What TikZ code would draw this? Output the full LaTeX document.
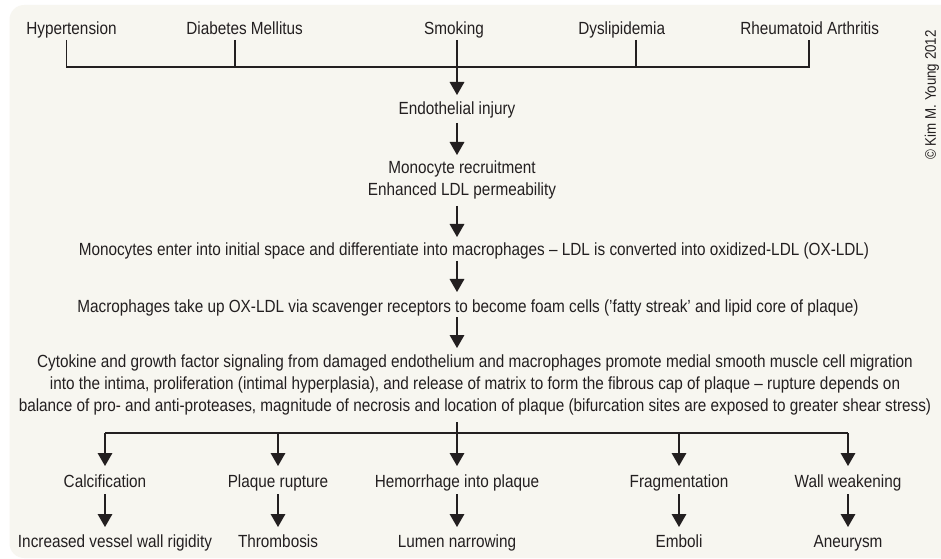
\documentclass[tikz,border=0pt]{standalone}
\usepackage{fontspec}
\setmainfont[FakeStretch=0.87]{Liberation Sans}
\usetikzlibrary{arrows.meta,calc}
\definecolor{ink}{HTML}{231F20}
\definecolor{bgc}{HTML}{F7F6F0}
\begin{document}
\begin{tikzpicture}[x=0.75pt,y=-0.75pt,
  lbl/.style={inner sep=0pt, text=ink, font=\fontsize{13.2pt}{16.7pt}\selectfont, anchor=base},
  ml/.style={lbl, align=center},
  ln/.style={draw=ink, line width=0.8pt},
  arr/.style={ln, -{Triangle[length=9.75pt,width=11pt]}}]
\useasboundingbox (0,0) rectangle (941,559);
\fill[white] (0,0) rectangle (941,559);
\begin{scope}
\clip (0,0) rectangle (941,559);
\fill[bgc, rounded corners=11pt] (9.5,5) rectangle (960,558);
\end{scope}
% top risk factors
\node[lbl] (hyp) at (71.5,35) {Hypertension};
\node[lbl] (dm)  at (244.6,35) {Diabetes Mellitus};
\node[lbl] (smk) at (454,35) {Smoking};
\node[lbl] (dys) at (621.7,35) {Dyslipidemia};
\node[lbl] (ra)  at (809.7,35) {Rheumatoid Arthritis};
\node[inner sep=0pt, text=ink, font=\fontsize{11.5pt}{12pt}\selectfont, rotate=90] (copy) at (932,95) {© Kim M. Young 2012};
% chain
\node[lbl] (endo) at (457,115) {Endothelial injury};
\node[ml] (mono) at (462,196) {Monocyte recruitment\\Enhanced LDL permeability};
\node[lbl] (mac1) at (474,256) {Monocytes enter into initial space and differentiate into macrophages -- LDL is converted into oxidized-LDL (OX-LDL)};
\node[lbl] (mac2) at (468,312) {Macrophages take up OX-LDL via scavenger receptors to become foam cells (’fatty streak’ and lipid core of plaque)};
\node[ml] (para) at (475,411.7) {Cytokine and growth factor signaling from damaged endothelium and macrophages promote medial smooth muscle cell migration\\into the intima, proliferation (intimal hyperplasia), and release of matrix to form the fibrous cap of plaque -- rupture depends on\\balance of pro- and anti-proteases, magnitude of necrosis and location of plaque (bifurcation sites are exposed to greater shear stress)};
% outcomes
\node[lbl] (calc) at (105,487) {Calcification};
\node[lbl] (plq)  at (278,487) {Plaque rupture};
\node[lbl] (hem)  at (457,487) {Hemorrhage into plaque};
\node[lbl] (frag) at (679,487) {Fragmentation};
\node[lbl] (wall) at (848,487) {Wall weakening};
\node[lbl] (incr) at (115,547) {Increased vessel wall rigidity};
\node[lbl] (thr)  at (278,547) {Thrombosis};
\node[lbl] (lum)  at (457,547) {Lumen narrowing};
\node[lbl] (emb)  at (679,547) {Emboli};
\node[lbl] (aneu) at (848,547) {Aneurysm};
% connector points
\coordinate (trunk) at (457,0);
\coordinate (jH) at (66.7,67);
\coordinate (jD) at (235,67);
\coordinate (jY) at (636,67);
\coordinate (jR) at (809,67);
\coordinate (br) at (457,433);
\coordinate (brL) at (105,433);
\coordinate (brR) at (848,433);
% top bracket
\draw[ln] (hyp.base -| jH) ++(0,5) |- (jR) -- ++(0,-27);
\draw[ln] (dm.base -| jD) ++(0,5) -- (jD);
\draw[ln] (dys.base -| jY) ++(0,5) -- (jY);
\draw[arr] (smk.base -| trunk) ++(0,5) -- ($(endo.base)+(0,-20)$);
% chain arrows
\draw[arr] ($(endo.base)+(0,8)$) -- ($(mono.base -| trunk)+(0,-41)$);
\draw[arr] ($(mono.base -| trunk)+(0,10)$) -- ($(mac1.base -| trunk)+(0,-19)$);
\draw[arr] ($(mac1.base -| trunk)+(0,5)$) -- ($(mac2.base -| trunk)+(0,-20)$);
\draw[arr] ($(mac2.base -| trunk)+(0,5)$) -- ($(para.base -| trunk)+(0,-63.7)$);
\draw[ln] ($(para.base -| trunk)+(0,10.3)$) -- (br);
\draw[ln] (brL) -- (brR);
\foreach \n in {calc,plq,hem,frag,wall}{
  \draw[arr] (\n.base |- br) -- ($(\n.base)+(0,-21)$);
  \draw[arr] ($(\n.base)+(0,7)$) -- ($(\n.base)+(0,40)$);
}
\end{tikzpicture}
\end{document}
